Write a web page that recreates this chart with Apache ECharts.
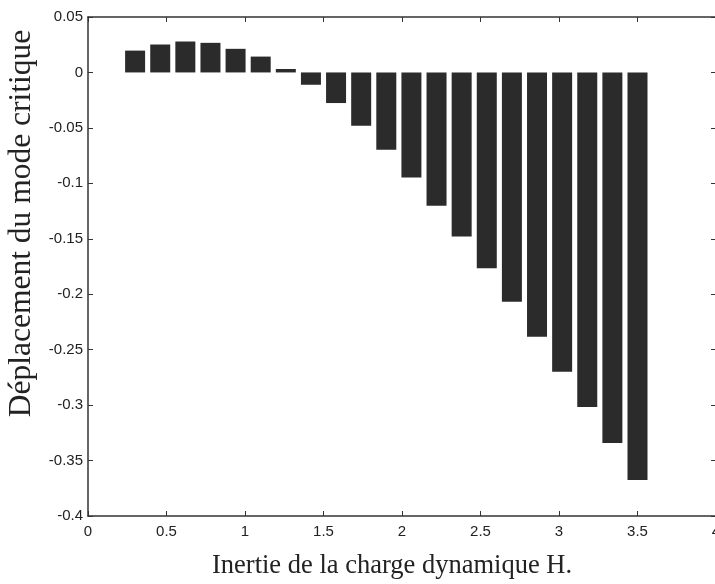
<!DOCTYPE html>
<html>
<head>
<meta charset="utf-8">
<script src="https://cdn.jsdelivr.net/npm/echarts@6/dist/echarts.min.js"></script>
<style>
html,body{margin:0;padding:0;background:#fff;}
#c{width:715px;height:584px;}
</style>
</head>
<body>
<div id="c"></div>
<script>
// Data
var inertiaH = [0.3, 0.46, 0.62, 0.78, 0.94, 1.1, 1.26, 1.42, 1.58, 1.74, 1.9, 2.06, 2.22, 2.38, 2.54, 2.7, 2.86, 3.02, 3.18, 3.34, 3.5];
var displacement = [0.0197, 0.0252, 0.0279, 0.0267, 0.0213, 0.0143, 0.0031, -0.0111, -0.0276, -0.0481, -0.0698, -0.0948, -0.1203, -0.148, -0.1765, -0.2067, -0.2383, -0.2699, -0.3017, -0.3342, -0.3676];
var xTicks = [0, 0.5, 1, 1.5, 2, 2.5, 3, 3.5, 4];
var yTicks = [0.05, 0, -0.05, -0.1, -0.15, -0.2, -0.25, -0.3, -0.35, -0.4];
var xTitle = 'Inertie de la charge dynamique H.';
var yTitle = 'Déplacement du mode critique';

var pairs = inertiaH.map(function (x, i) { return [x, displacement[i]]; });
function fmt(v) { return String(parseFloat(v.toFixed(2))); }

var axisCol = '#333';
var chart = echarts.init(document.getElementById('c'), null, {renderer: 'canvas'});
chart.setOption({
  backgroundColor: '#fff',
  animation: false,
  grid: {left: 88, top: 17, width: 628, height: 499, containLabel: false, outerBoundsMode: 'none'},
  xAxis: [{
    type: 'value', position: 'bottom', min: xTicks[0], max: xTicks[xTicks.length - 1], interval: 0.5,
    axisLine: {onZero: false, lineStyle: {color: axisCol, width: 1.5}},
    axisTick: {inside: true, length: 5, lineStyle: {color: axisCol}},
    splitLine: {show: false},
    axisLabel: {formatter: fmt, color: '#222', fontFamily: 'Liberation Sans', fontSize: 15, margin: 8},
    name: xTitle, nameLocation: 'middle', nameGap: 37,
    nameTextStyle: {fontFamily: 'Liberation Serif', fontSize: 26.5, color: '#222', padding: [0, 20, 0, 0]}
  }, {
    type: 'value', position: 'top', min: xTicks[0], max: xTicks[xTicks.length - 1], interval: 0.5,
    axisLine: {onZero: false, lineStyle: {color: axisCol, width: 1.5}},
    axisTick: {inside: true, length: 5, lineStyle: {color: axisCol}},
    axisLabel: {show: false}, splitLine: {show: false}
  }],
  yAxis: [{
    type: 'value', position: 'left', min: -0.4, max: 0.05, interval: 0.05,
    axisLine: {show: true, onZero: false, lineStyle: {color: axisCol, width: 1.5}},
    axisTick: {show: true, inside: true, length: 5, lineStyle: {color: axisCol}},
    splitLine: {show: false},
    axisLabel: {formatter: fmt, color: '#222', fontFamily: 'Liberation Sans', fontSize: 15, margin: 5},
    name: yTitle, nameLocation: 'middle', nameGap: 50, nameRotate: 90,
    nameTextStyle: {fontFamily: 'Liberation Serif', fontSize: 31.5, color: '#222', padding: [0, 0, 0, 86]}
  }, {
    type: 'value', position: 'right', min: -0.4, max: 0.05, interval: 0.05,
    axisLine: {show: true, onZero: false, lineStyle: {color: axisCol, width: 1.5}},
    axisTick: {show: true, inside: true, length: 5, lineStyle: {color: axisCol}},
    axisLabel: {show: false}, splitLine: {show: false}
  }],
  series: [{
    type: 'bar',
    xAxisIndex: 0, yAxisIndex: 0,
    data: pairs,
    barWidth: 20,
    itemStyle: {color: '#2b2b2b'}
  }]
});
</script>
</body>
</html>
